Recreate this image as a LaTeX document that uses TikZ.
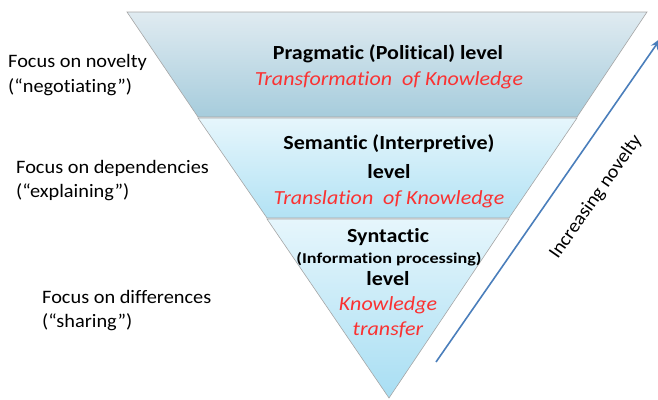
\documentclass[tikz,border=0pt]{standalone}
\usepackage{fontspec}
\setmainfont[Ligatures=NoCommon]{Carlito}
\usetikzlibrary{arrows.meta}
\definecolor{kred}{RGB}{250,50,50}
\definecolor{arrowblue}{RGB}{74,126,187}
\definecolor{topA}{RGB}{224,235,241}
\definecolor{topB}{RGB}{166,204,220}
\definecolor{midA}{RGB}{230,246,252}
\definecolor{midB}{RGB}{178,226,244}
\definecolor{botA}{RGB}{230,246,252}
\definecolor{botB}{RGB}{168,222,243}
\begin{document}
\begin{tikzpicture}[x=1pt,y=-1pt,
  band/.style={draw=gray!70,line width=0.6pt},
  lbl/.style={anchor=base west,inner sep=0pt,xscale=1.07,font=\fontsize{19}{21}\selectfont},
  ttl/.style={anchor=base,inner sep=0pt,xscale=1.1,font=\fontsize{20}{22}\selectfont\bfseries},
  sub/.style={anchor=base,inner sep=0pt,xscale=1.1,font=\fontsize{20}{22}\selectfont\itshape,text=kred}]
\useasboundingbox (0,0) rectangle (658,399);
% bands
\shade[band,top color=topA,bottom color=topB] (127,12) -- (647,12) -- (577,117) -- (198,117) -- cycle;
\shade[band,top color=midA,bottom color=midB] (198,118) -- (577,118) -- (509,218) -- (267,218) -- cycle;
\shade[band,top color=botA,bottom color=botB] (267,219) -- (509,219) -- (389,398) -- cycle;
% titles
\node[ttl] (p1) at (388,59) {Pragmatic (Political) level};
\node[sub] (p2) at (389,85) {Transformation \ of Knowledge};
\node[ttl] (s1) at (389,149) {Semantic (Interpretive)};
\node[ttl] (s2) at (389,178) {level};
\node[sub] (s3) at (389,204) {Translation \ of Knowledge};
\node[ttl] (y1) at (388,242) {Syntactic};
\node[ttl,xscale=1.1,font=\fontsize{15}{17}\selectfont\bfseries] (y2) at (389,263) {(Information processing)};
\node[ttl] (y3) at (388,285) {level};
\node[sub] (y4) at (388,310) {Knowledge};
\node[sub] (y5) at (388,335) {transfer};
% left labels
\node[lbl] (l1) at (8,67) {Focus on novelty};
\node[lbl] (l2) at (8,92) {(“negotiating”)};
\node[lbl] (l3) at (16,173) {Focus on dependencies};
\node[lbl] (l4) at (16,197) {(“explaining”)};
\node[lbl] (l5) at (42,303) {Focus on differences};
\node[lbl] (l6) at (42,327) {(“sharing”)};
% arrow
\coordinate (a0) at (436,362);
\coordinate (a1) at (661,38);
\draw[arrowblue,line width=1.6pt,-{Stealth[length=12pt,width=8pt]}] (a0) -- (a1);
\node[rotate=55,xscale=1.05,font=\fontsize{19}{21}\selectfont,inner sep=0pt] (inc) at (596,197) {Increasing novelty};
\end{tikzpicture}
\end{document}
